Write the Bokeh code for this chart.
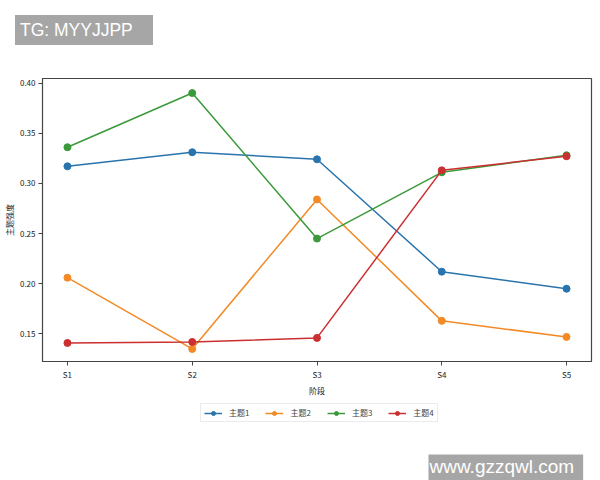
from bokeh.plotting import figure
from bokeh.layouts import column
from bokeh.models import (FixedTicker, Legend, LegendItem, Label, Div,
                          NumeralTickFormatter, Range1d)
from bokeh.embed import file_html
from bokeh.resources import INLINE

stages = ["S1", "S2", "S3", "S4", "S5"]
series_names = ["主题1", "主题2", "主题3", "主题4"]
topic1 = [0.317, 0.331, 0.324, 0.212, 0.195]
topic2 = [0.206, 0.135, 0.284, 0.163, 0.147]
topic3 = [0.336, 0.390, 0.245, 0.311, 0.328]
topic4 = [0.141, 0.142, 0.146, 0.313, 0.327]
colors = ["#2a74ad", "#f28a25", "#3a9a3a", "#cc2f30"]
y_ticks = [0.15, 0.20, 0.25, 0.30, 0.35, 0.40]
all_series = [topic1, topic2, topic3, topic4]

FONT = "Noto Sans CJK SC"

# top strip with watermark (HTML text, not a plot, so it is not frame-aligned)
top = Div(text=('<div style="display:inline-block;margin:10px 0 0 10px;'
                'padding:5px 20px 5px 5px;background:#a6a6a6;color:#ffffff;'
                'font-family:\'Liberation Sans\';font-size:17.5px;line-height:20px;'
                'white-space:nowrap;">TG: MYYJJPP</div>'),
          width=600, height=60)

# main chart
p = figure(frame_width=549, frame_height=283, output_backend="svg", toolbar_location=None,
           x_range=Range1d(-0.2, 4.2), y_range=Range1d(0.1225, 0.4045),
           min_border_left=42, min_border_right=9, min_border_top=8, min_border_bottom=40)
p.xgrid.visible = False
p.ygrid.visible = False
p.outline_line_color = "#444444"
p.outline_line_width = 1.2

xs = list(range(len(stages)))
for name, ys, c in zip(series_names, all_series, colors):
    p.line(xs, ys, line_color=c, line_width=1.5)
    p.scatter(xs, ys, size=7, fill_color=c, line_color=c)

p.xaxis.ticker = FixedTicker(ticks=xs)
p.xaxis.major_label_overrides = {i: s for i, s in enumerate(stages)}
p.yaxis.ticker = FixedTicker(ticks=y_ticks)
p.yaxis.formatter = NumeralTickFormatter(format="0.00")
for ax in (p.xaxis[0], p.yaxis[0]):
    ax.axis_line_color = "#444444"
    ax.major_tick_line_color = "#444444"
    ax.major_tick_in = 0
    ax.major_tick_out = 4
    ax.minor_tick_line_color = None
    ax.major_label_standoff = 3
    ax.major_label_text_font = FONT
    ax.major_label_text_font_size = "8px"
    ax.major_label_text_color = "#222222"
    ax.axis_label_text_font = FONT
    ax.axis_label_text_font_size = "8px"
    ax.axis_label_text_font_style = "normal"
    ax.axis_label_text_color = "#222222"
p.xaxis.axis_label = "阶段"
p.yaxis.axis_label = "主题强度"
p.xaxis.axis_label_standoff = 2
p.yaxis.axis_label_standoff = 2

# bottom strip: legend and watermark (legend renderers hold the series but sit out of view)
bot = figure(width=600, height=89, output_backend="svg", toolbar_location=None,
             x_range=Range1d(10, 11), y_range=Range1d(0, 1),
             x_axis_type=None, y_axis_type=None,
             min_border=0, outline_line_color=None)
items = []
for name, ys, c in zip(series_names, all_series, colors):
    l = bot.line(xs, ys, line_color=c, line_width=1.5)
    s = bot.scatter(xs, ys, size=6, fill_color=c, line_color=c)
    items.append(LegendItem(label=name, renderers=[l, s]))
legend = Legend(items=items, orientation="horizontal", location=(158, 68),
                label_text_font=FONT, label_text_font_size="8px",
                glyph_width=18, glyph_height=10, spacing=16, padding=3, margin=0,
                border_line_color="#d8d8d8", label_standoff=7)
bot.add_layout(legend, "center")
bot.add_layout(Label(x=386, y=10, x_units="screen", y_units="screen", text="www.gzzqwl.com",
                     text_font="Liberation Sans", text_font_size="19px", text_color="white",
                     background_fill_color="#a6a6a6", padding=(1, 9, 1, 4)))

layout = column(top, p, bot, spacing=0)
open("out.html", "w").write(file_html(layout, INLINE))
